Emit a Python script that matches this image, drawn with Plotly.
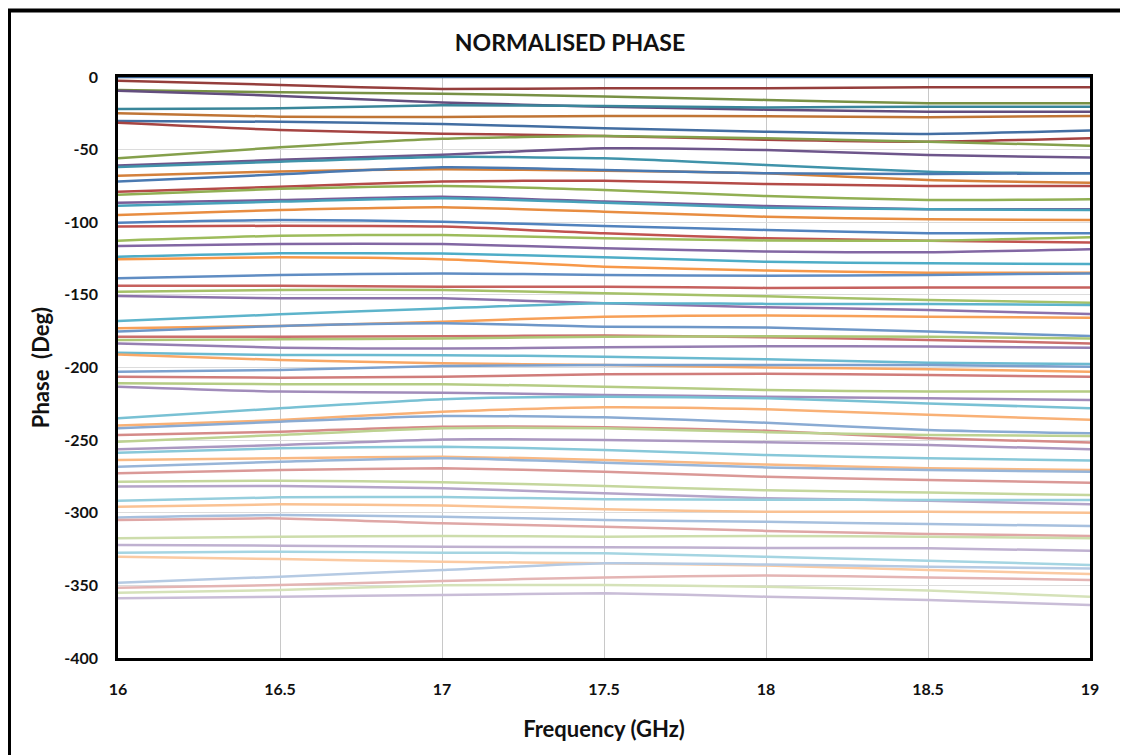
import plotly.graph_objects as go

freq_ghz = [16, 16.5, 17, 17.5, 18, 18.5, 19]

# Normalised phase (deg) of each of the 64 states
st00 = [0, 0, 0, 0, 0, 0, 0]
st01 = [-2.5, -5.5, -8.2, -7.8, -7.8, -7.1, -7.1]
st02 = [-9, -10.5, -11.5, -13.5, -15.8, -18.1, -18.1]
st03 = [-9.4, -13, -17.5, -20.4, -22.5, -23.9, -23.9]
st04 = [-22, -21.6, -19.5, -20, -21, -20.4, -20.4]
st05 = [-25, -27.3, -27.5, -26.8, -27, -27.7, -26.8]
st06 = [-30.3, -30.8, -32.3, -35.3, -37.7, -39.2, -36.9]
st07 = [-31.5, -36.5, -39, -40.6, -43.2, -44.5, -42.2]
st08 = [-56, -48.4, -42.5, -40.6, -42.2, -44.5, -47.3]
st09 = [-61, -57, -53.5, -49.1, -50.3, -53.7, -55.5]
st10 = [-62, -58.3, -55, -56, -60.6, -65.2, -66.3]
st11 = [-68, -65, -63.5, -64.5, -66.3, -70.9, -72.8]
st12 = [-72, -67, -62.2, -64, -66.3, -66.8, -66.3]
st13 = [-79, -75.5, -72, -71.4, -73.7, -75, -75]
st14 = [-81, -77, -75, -77.8, -82, -84.7, -84.2]
st15 = [-86.5, -84.7, -82.4, -85.8, -88.8, -91, -91]
st16 = [-88.6, -85.8, -83.5, -86.5, -90, -91, -91.6]
st17 = [-95, -91.6, -89.7, -92.7, -96.2, -98, -98.5]
st18 = [-100.3, -98.5, -99.6, -102.6, -105.3, -107.6, -107.6]
st19 = [-103, -102.4, -103, -107.6, -111, -112.7, -114]
st20 = [-112.7, -109.3, -108.8, -111, -112.5, -112.7, -110.4]
st21 = [-116.4, -115, -115, -117.9, -120.2, -120.7, -118.6]
st22 = [-123.7, -121.4, -121.6, -124.1, -127.2, -128.3, -128.7]
st23 = [-125.5, -124.1, -125.5, -130.6, -133.2, -134.7, -134.7]
st24 = [-138.6, -136.3, -135.2, -136.3, -136.8, -136.3, -135.2]
st25 = [-143.7, -143.7, -144.4, -144.4, -145.2, -145, -145]
st26 = [-147.8, -146.6, -146.6, -148.9, -151, -153.5, -155.4]
st27 = [-150.8, -152.4, -152.4, -155.8, -158.5, -160.4, -163.2]
st28 = [-168, -163.4, -159.3, -155.8, -156.2, -156.3, -157]
st29 = [-173, -171.4, -168.5, -165, -164.2, -165, -165.7]
st30 = [-175.3, -171.4, -169.6, -171.9, -172.5, -175.3, -178.3]
st31 = [-178.8, -178.8, -178.5, -178, -179.2, -181, -183.4]
st32 = [-181, -180.6, -180, -178.8, -178.5, -178.8, -180]
st33 = [-183.4, -186.4, -187, -186.1, -185.4, -185.6, -186.4]
st34 = [-189.8, -191.4, -191.5, -192.6, -194.4, -196.7, -197.6]
st35 = [-191, -194.8, -197.1, -198.3, -200, -201.2, -202.9]
st36 = [-202.9, -201.7, -199, -198.3, -198.3, -198.3, -199.4]
st37 = [-206.3, -207, -206.3, -204.7, -204.3, -205.2, -206.3]
st38 = [-210.9, -211.5, -211.5, -213.2, -215.5, -216.6, -216.6]
st39 = [-213.2, -216.6, -217.3, -218.9, -220.1, -221.2, -222.4]
st40 = [-235, -228.1, -221.8, -220.1, -221.2, -224.7, -228.1]
st41 = [-240, -236.2, -230.4, -227.4, -228.8, -232.5, -236]
st42 = [-241.9, -237.3, -233.4, -234.3, -238, -243, -245.3]
st43 = [-246.5, -244.2, -240.8, -241.2, -243.5, -248.7, -251.7]
st44 = [-251.1, -246.5, -241.9, -241.9, -244.5, -246.5, -247.2]
st45 = [-256.3, -253.4, -249.5, -249.9, -251.4, -253.4, -256.3]
st46 = [-258.7, -255.6, -254.5, -256.8, -260.3, -262.5, -264.1]
st47 = [-263.7, -262.5, -261.4, -263.7, -266.8, -269.4, -270.6]
st48 = [-268.3, -264.9, -262.5, -265.5, -268.8, -270.6, -271.7]
st49 = [-272.8, -270.6, -269.4, -271.7, -275.2, -277.5, -279.3]
st50 = [-278.6, -277.9, -279, -281.6, -284.5, -286.1, -287.8]
st51 = [-282, -281.6, -283.2, -286.6, -290, -291.7, -294.2]
st52 = [-291.7, -289.4, -289.2, -290.7, -291, -291.2, -291.2]
st53 = [-295.8, -294.2, -295, -297.6, -299.3, -299.3, -300]
st54 = [-303.2, -301.6, -302.7, -305, -306.2, -307.8, -309.1]
st55 = [-305, -303.9, -307.3, -309.6, -312.5, -314.6, -316]
st56 = [-317.6, -316.5, -316, -316.5, -316, -316.5, -317.6]
st57 = [-322.2, -322.7, -323.4, -323.8, -324.2, -324.5, -326.1]
st58 = [-327.5, -326.8, -327.5, -327.9, -330.3, -333, -336]
st59 = [-330.3, -331.9, -333.7, -334.8, -336.3, -339.4, -342.2]
st60 = [-348.2, -344, -339.4, -334.8, -335.6, -337.2, -338.3]
st61 = [-351.6, -349.8, -347, -344.5, -343.2, -344.5, -346.3]
st62 = [-355, -353.2, -350, -349.8, -350.9, -353.6, -357.8]
st63 = [-358.9, -357.8, -356.6, -355.5, -357.8, -360.1, -363.5]

states = [st00, st01, st02, st03, st04, st05, st06, st07, st08, st09,
          st10, st11, st12, st13, st14, st15, st16, st17, st18, st19,
          st20, st21, st22, st23, st24, st25, st26, st27, st28, st29,
          st30, st31, st32, st33, st34, st35, st36, st37, st38, st39,
          st40, st41, st42, st43, st44, st45, st46, st47, st48, st49,
          st50, st51, st52, st53, st54, st55, st56, st57, st58, st59,
          st60, st61, st62, st63]

x_ticks = [16, 16.5, 17, 17.5, 18, 18.5, 19]
y_ticks = [0, -50, -100, -150, -200, -250, -300, -350, -400]

base_colors = [(79, 129, 189), (192, 80, 77), (155, 187, 89),
               (128, 100, 162), (75, 172, 198), (247, 150, 70)]


def shade(rgb, t):
    if t < 0:
        r = [int(c * (1 + t)) for c in rgb]
    else:
        r = [int(c + (255 - c) * t) for c in rgb]
    return "rgb(%d,%d,%d)" % tuple(r)


fig = go.Figure()
for i, vals in enumerate(states):
    g = i // 6
    t = -0.22 + 0.08 * g
    fig.add_trace(go.Scatter(
        x=freq_ghz, y=vals, mode="lines",
        line=dict(color=shade(base_colors[i % 6], t), width=2.5,
                  shape="spline", smoothing=0.6),
        showlegend=False, hoverinfo="skip"))

FONT = "Lato, 'Open Sans', sans-serif"

# page has an 8px body margin; figure pixel coords = page coords - 8
W, H = 1120, 747
L, T, R, B = 110, 69, 38, 97

fig.update_layout(
    width=W, height=H,
    margin=dict(l=L, r=R, t=T, b=B),
    paper_bgcolor="white", plot_bgcolor="white",
    title=dict(text="<b>NORMALISED PHASE</b>", x=562 / W, xanchor="center",
               y=1 - 35 / H, yanchor="middle",
               font=dict(family=FONT, size=23, color="#111")),
    font=dict(family=FONT, color="#111"),
    showlegend=False,
)

fig.update_xaxes(
    range=[16, 19], tickvals=x_ticks,
    ticktext=["<b>%g</b>" % v for v in x_ticks],
    showgrid=True, gridcolor="#c8c8c8", gridwidth=1,
    showline=True, linecolor="black", linewidth=2.5, mirror=True,
    ticks="", ticklabelstandoff=15, zeroline=False,
    tickfont=dict(family=FONT, size=16, color="#111"),
    title=dict(text="<b>Frequency (GHz)</b>", standoff=25,
               font=dict(family=FONT, size=22, color="#111")),
)
fig.update_yaxes(
    range=[-400, 0], tickvals=y_ticks,
    ticktext=["<b>%d</b>" % v for v in y_ticks],
    showgrid=True, gridcolor="#dcdcdc", gridwidth=1,
    showline=True, linecolor="black", linewidth=2.5, mirror=True,
    ticks="", ticklabelstandoff=14, zeroline=False,
    tickfont=dict(family=FONT, size=16, color="#111"),
    title=dict(text="<b>Phase\u00a0 (Deg)</b>", standoff=9,
               font=dict(family=FONT, size=22, color="#111")),
)

# outer chart frame (in figure pixel coords)
pw, ph = float(W - L - R), float(H - T - B)
def px(xf):
    return (xf - L) / pw
def py(yf):
    return (H - B - yf) / ph

fig.add_shape(type="rect", xref="paper", yref="paper",
              x0=px(1.0), x1=px(1114), y0=py(760), y1=py(2.5),
              line=dict(color="black", width=4), layer="below")

fig.write_html("out.html")
